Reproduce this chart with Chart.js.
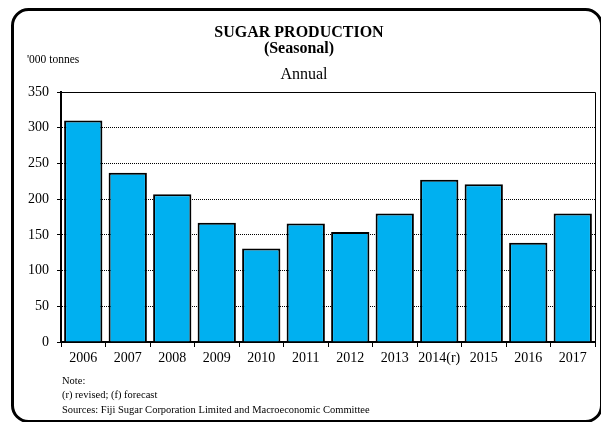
<!DOCTYPE html>
<html>
<head>
<meta charset="utf-8">
<script src="https://cdn.jsdelivr.net/npm/chart.js@4/dist/chart.umd.min.js"></script>
<style>
  html, body { margin: 0; padding: 0; background: #fff; }
  #wrap { width: 601px; height: 422px; position: relative; }
</style>
</head>
<body>
<div id="wrap"><canvas id="sugar-chart"></canvas></div>
<script>
const years = ['2006', '2007', '2008', '2009', '2010', '2011', '2012', '2013', '2014(r)', '2015', '2016', '2017'];
const production = [310, 237, 207, 167, 131, 166, 154, 180, 227, 221, 139, 180];
const yTicks = [0, 50, 100, 150, 200, 250, 300, 350];

const serif = '"Liberation Serif", "Times New Roman", serif';

const framePlugin = {
    id: 'frame',
    afterDraw(chart) {
        const ctx = chart.ctx;
        const a = chart.chartArea;
        ctx.save();
        // plot border top + right
        ctx.strokeStyle = '#000';
        ctx.lineWidth = 1;
        ctx.beginPath();
        ctx.moveTo(a.left, a.top + 0.5);
        ctx.lineTo(a.right + 0.5, a.top + 0.5);
        ctx.lineTo(a.right + 0.5, a.bottom);
        ctx.stroke();

        // rounded outer frame
        ctx.lineWidth = 3;
        ctx.beginPath();
        ctx.roundRect(12.5, 9.5, 589, 412, 16);
        ctx.stroke();

        ctx.fillStyle = '#000';
        ctx.textAlign = 'center';
        ctx.textBaseline = 'alphabetic';
        ctx.font = 'bold 16px ' + serif;
        ctx.fillText('SUGAR PRODUCTION', 299, 37);
        ctx.fillText('(Seasonal)', 299, 53);
        ctx.font = '16px ' + serif;
        ctx.fillText('Annual', 304, 79);

        ctx.textAlign = 'left';
        ctx.font = '11.5px ' + serif;
        ctx.fillText("'000 tonnes", 27, 63);

        ctx.font = '10.5px ' + serif;
        ctx.fillText('Note:', 62, 384);
        ctx.fillText('(r) revised; (f) forecast', 62, 398);
        ctx.fillText('Sources: Fiji Sugar Corporation Limited and Macroeconomic Committee', 62, 413);
        ctx.restore();
    }
};

function initChart() {
    const ctx = document.getElementById('sugar-chart').getContext('2d');
    new Chart(ctx, {
        type: 'bar',
        data: {
            labels: years,
            datasets: [{
                label: 'Sugar production',
                data: production,
                backgroundColor: '#00B0F0',
                borderColor: '#000',
                borderWidth: 2,
                barPercentage: 0.86,
                categoryPercentage: 1.0
            }]
        },
        options: {
            responsive: false,
            animation: false,
            devicePixelRatio: 1,
            layout: { padding: { top: 92, left: 0, right: 6, bottom: 0 } },
            plugins: {
                legend: { display: false },
                tooltip: { enabled: false }
            },
            scales: {
                x: {
                    offset: true,
                    grid: {
                        offset: true,
                        drawOnChartArea: false,
                        drawTicks: true,
                        tickLength: 5,
                        color: '#000'
                    },
                    border: { color: '#000', width: 2 },
                    ticks: {
                        color: '#000',
                        padding: 3,
                        maxRotation: 0,
                        autoSkip: false,
                        font: { family: serif, size: 14 }
                    },
                    afterFit(scale) { scale.height = 80; }
                },
                y: {
                    min: 0,
                    max: 350,
                    afterBuildTicks(scale) {
                        scale.ticks = yTicks.map(v => ({ value: v }));
                    },
                    grid: {
                        color: '#000',
                        lineWidth: 1,
                        tickLength: 4,
                        tickBorderDash: [],
                        tickColor: '#000'
                    },
                    border: { color: '#000', width: 2, dash: [1, 1] },
                    ticks: {
                        color: '#000',
                        padding: 8,
                        font: { family: serif, size: 14 }
                    },
                    afterFit(scale) { scale.width = 61; }
                }
            }
        },
        plugins: [framePlugin]
    });
}

document.addEventListener('DOMContentLoaded', () => {
    const c = document.getElementById('sugar-chart');
    c.width = 601;
    c.height = 422;
    initChart();
});
</script>
</body>
</html>
